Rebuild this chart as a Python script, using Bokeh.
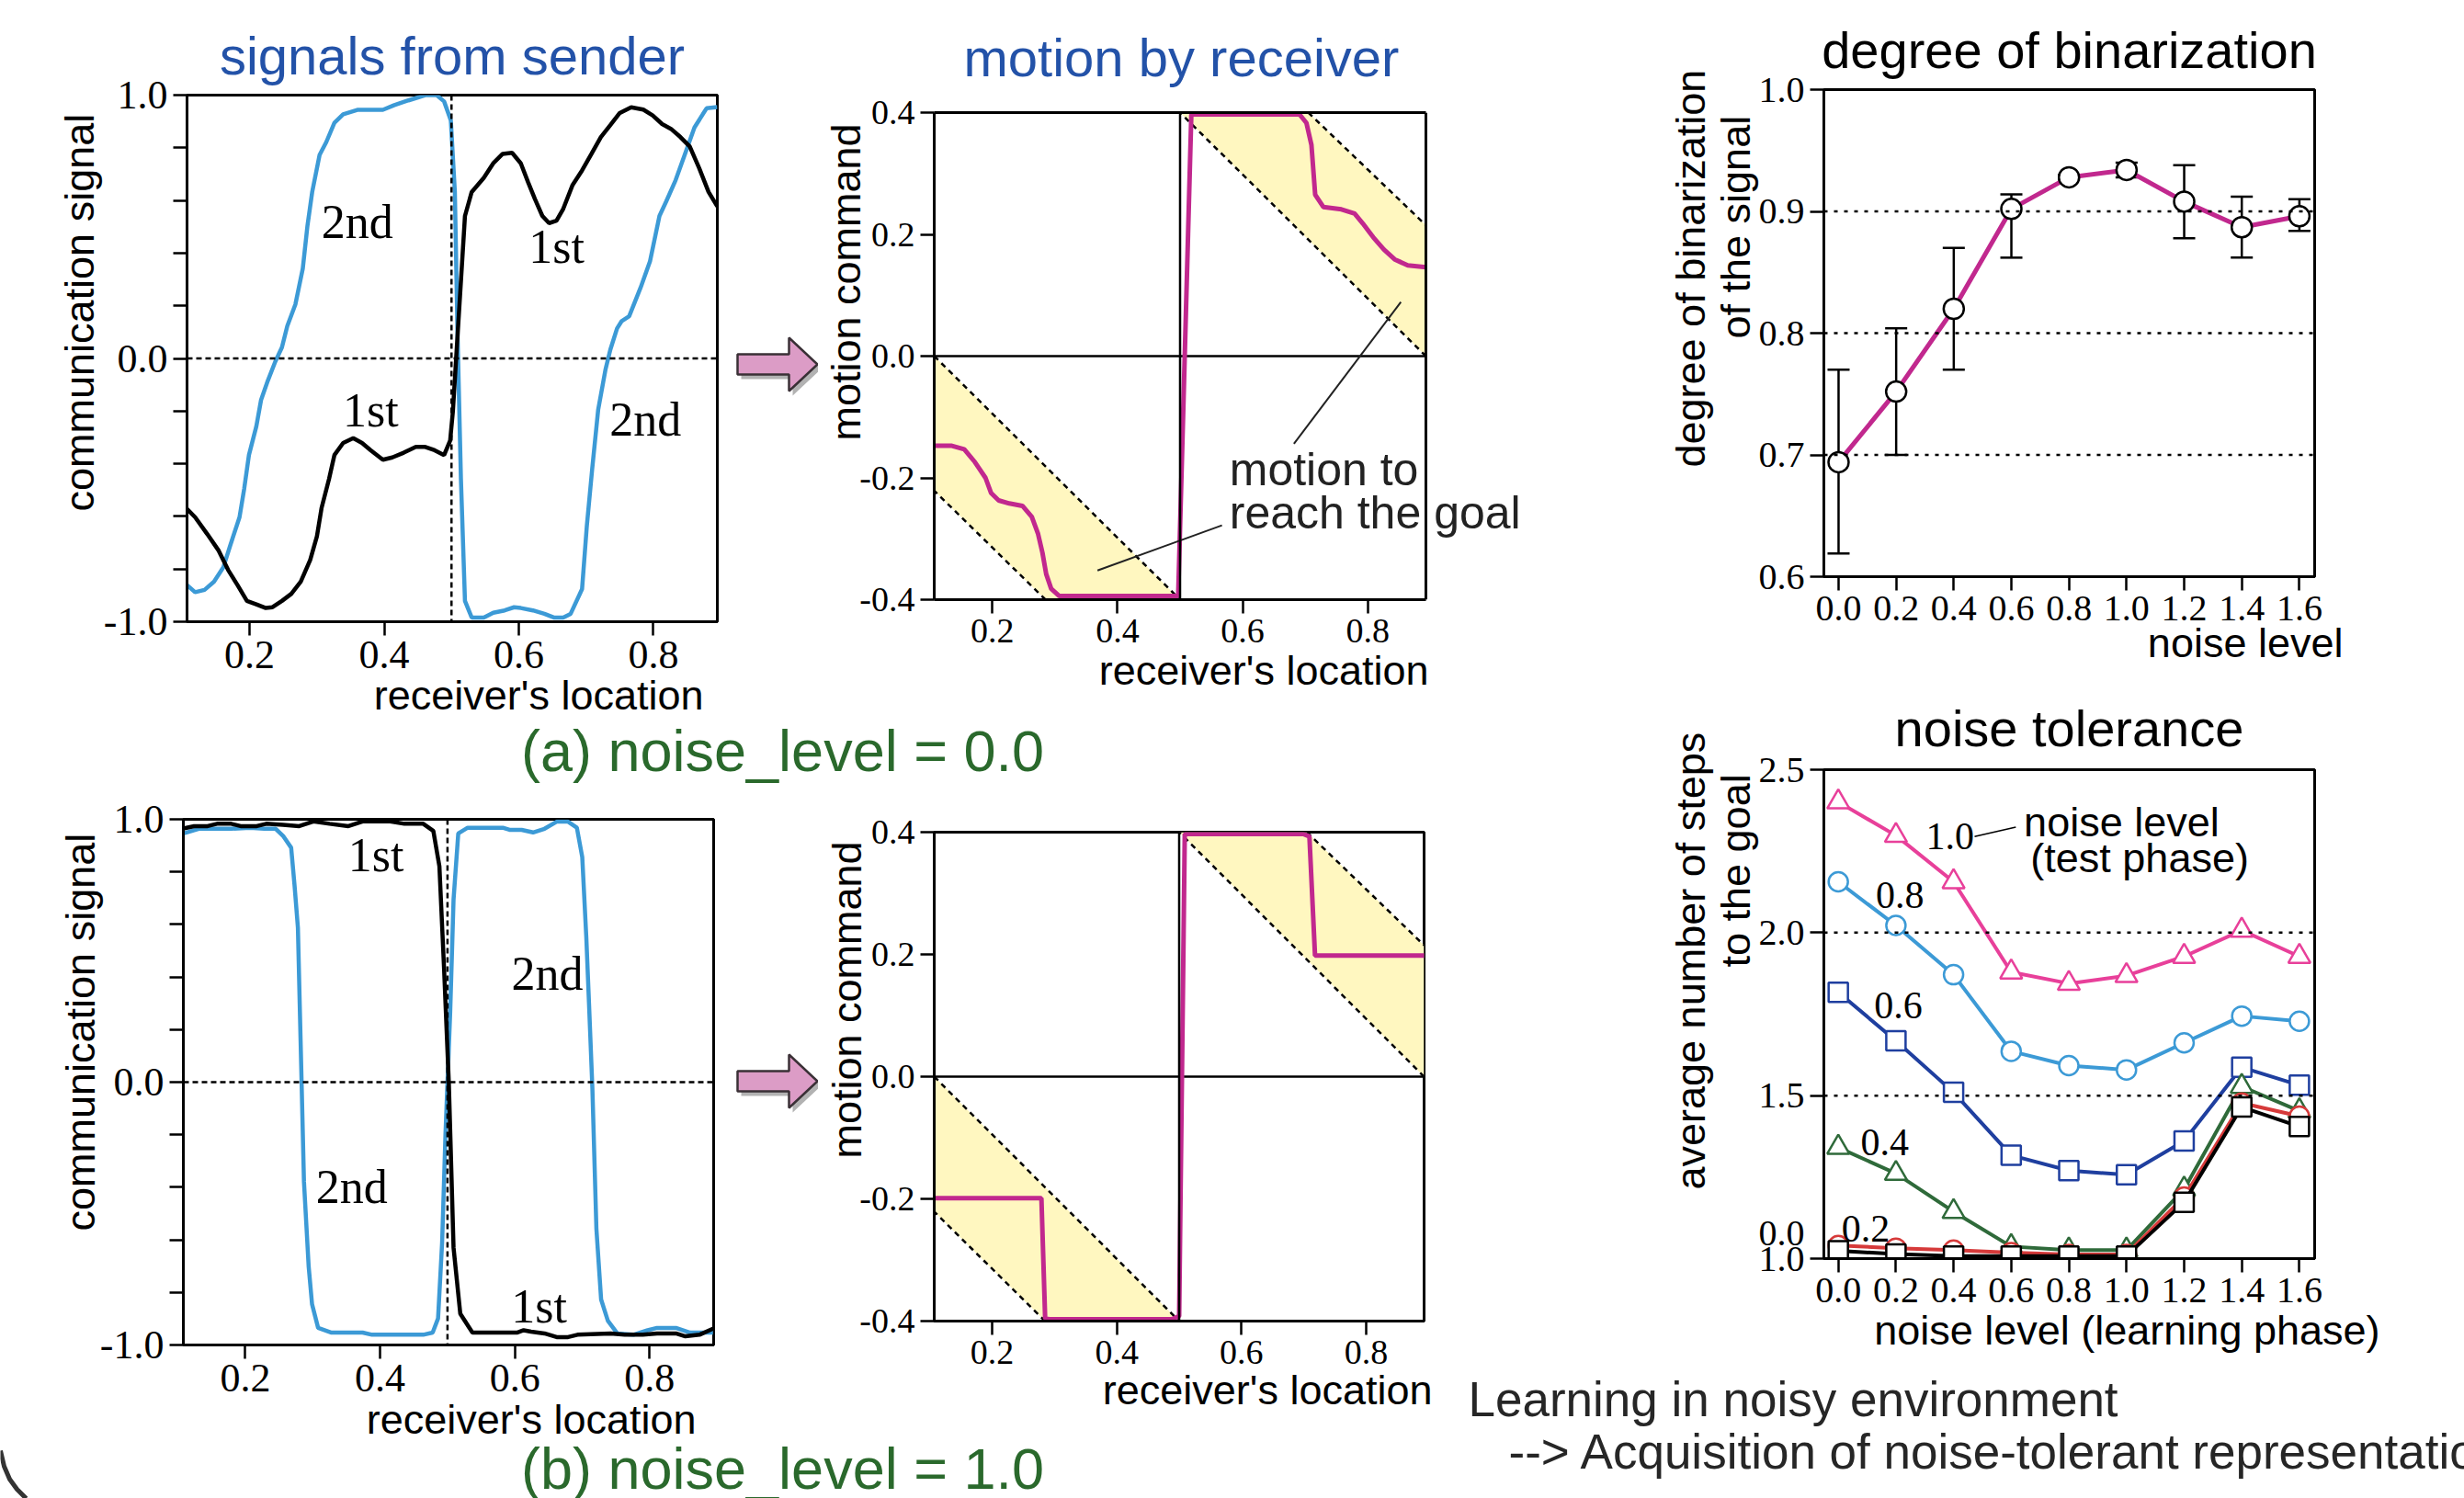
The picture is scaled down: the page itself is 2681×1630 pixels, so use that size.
from bokeh.plotting import figure
from bokeh.layouts import column
from bokeh.models import (GridBox, Range1d, FixedTicker, NumeralTickFormatter, Span, Label, Title,
                          Whisker, TeeHead, ColumnDataSource, LinearAxis)
from bokeh.embed import file_html
from bokeh.resources import INLINE
from bokeh.core.properties import value

SANS = "Liberation Sans"
SERIF = "Liberation Serif"

# ---------------- data ----------------
# (a) noise_level = 0.0 : signals from sender
a_first = [(0.107,-0.572),(0.119,-0.603),(0.137,-0.667),(0.154,-0.730),(0.168,-0.803),(0.182,-0.861),
           (0.196,-0.921),(0.210,-0.934),(0.224,-0.948),(0.234,-0.945),(0.248,-0.921),(0.262,-0.894),
           (0.276,-0.848),(0.290,-0.766),(0.300,-0.676),(0.307,-0.567),(0.318,-0.458),(0.326,-0.367),
           (0.339,-0.321),(0.354,-0.303),(0.367,-0.321),(0.380,-0.349),(0.398,-0.385),(0.412,-0.376),
           (0.429,-0.358),(0.447,-0.336),(0.461,-0.336),(0.475,-0.349),(0.489,-0.367),(0.498,-0.312),
           (0.502,-0.203),(0.509,0.087),(0.520,0.541),(0.530,0.632),(0.548,0.686),(0.562,0.741),
           (0.576,0.777),(0.590,0.781),(0.603,0.741),(0.614,0.668),(0.624,0.605),(0.635,0.541),
           (0.645,0.514),(0.656,0.523),(0.666,0.568),(0.680,0.659),(0.694,0.714),(0.708,0.777),
           (0.722,0.841),(0.736,0.886),(0.750,0.932),(0.767,0.954),(0.785,0.945),(0.799,0.923),
           (0.813,0.890),(0.826,0.872),(0.840,0.841),(0.854,0.805),(0.868,0.723),(0.882,0.632),(0.895,0.577)]
a_second = [(0.107,-0.861),(0.119,-0.888),(0.133,-0.879),(0.147,-0.848),(0.161,-0.793),(0.171,-0.712),
            (0.185,-0.603),(0.192,-0.494),(0.199,-0.367),(0.210,-0.258),(0.217,-0.158),(0.227,-0.085),
            (0.238,-0.013),(0.248,0.042),(0.256,0.123),(0.268,0.205),(0.279,0.341),(0.286,0.505),
            (0.293,0.632),(0.304,0.773),(0.314,0.822),(0.326,0.895),(0.339,0.927),(0.360,0.944),
            (0.398,0.944),(0.415,0.962),(0.436,0.980),(0.461,1.0),(0.478,1.0),(0.489,0.976),
            (0.499,0.904),(0.505,0.632),(0.509,0.087),(0.514,-0.458),(0.520,-0.921),(0.530,-0.984),
            (0.548,-0.984),(0.562,-0.966),(0.579,-0.957),(0.593,-0.945),(0.603,-0.948),(0.621,-0.957),
            (0.638,-0.970),(0.652,-0.984),(0.666,-0.984),(0.677,-0.970),(0.694,-0.876),(0.701,-0.639),
            (0.709,-0.421),(0.718,-0.194),(0.729,-0.040),(0.736,0.033),(0.746,0.114),(0.753,0.142),
            (0.764,0.160),(0.781,0.269),(0.795,0.369),(0.809,0.541),(0.819,0.596),(0.833,0.677),
            (0.847,0.777),(0.861,0.877),(0.879,0.950),(0.895,0.955)]
# (b) noise_level = 1.0 : signals from sender
b_first = [(0.108,0.965),(0.124,0.974),(0.144,0.974),(0.158,0.983),(0.179,0.983),(0.193,0.974),
           (0.217,0.974),(0.231,0.983),(0.256,0.979),(0.280,0.974),(0.301,0.992),(0.325,0.983),
           (0.353,0.974),(0.374,0.992),(0.415,0.992),(0.436,0.983),(0.464,0.983),(0.479,0.956),
           (0.488,0.821),(0.495,0.427),(0.502,-0.004),(0.509,-0.630),(0.519,-0.881),(0.537,-0.953),
           (0.575,-0.953),(0.603,-0.953),(0.613,-0.944),(0.624,-0.949),(0.644,-0.956),(0.662,-0.970),
           (0.679,-0.970),(0.693,-0.961),(0.742,-0.956),(0.763,-0.961),(0.790,-0.961),(0.811,-0.956),
           (0.839,-0.956),(0.853,-0.967),(0.874,-0.961),(0.894,-0.938)]
b_second = [(0.108,0.946),(0.131,0.964),(0.151,0.964),(0.179,0.964),(0.207,0.968),(0.228,0.964),
            (0.245,0.964),(0.256,0.937),(0.268,0.892),(0.273,0.749),(0.278,0.588),(0.282,0.158),
            (0.287,-0.379),(0.294,-0.702),(0.299,-0.845),(0.308,-0.935),(0.328,-0.953),(0.374,-0.953),
            (0.388,-0.961),(0.464,-0.961),(0.478,-0.953),(0.486,-0.899),(0.492,-0.612),(0.497,-0.200),
            (0.504,0.265),(0.509,0.695),(0.516,0.946),(0.530,0.968),(0.582,0.968),(0.592,0.960),
            (0.610,0.960),(0.627,0.950),(0.644,0.964),(0.662,0.991),(0.679,0.991),(0.692,0.968),
            (0.700,0.856),(0.706,0.552),(0.710,0.301),(0.715,-0.021),(0.721,-0.558),(0.728,-0.827),
            (0.738,-0.908),(0.752,-0.956),(0.776,-0.961),(0.797,-0.944),(0.811,-0.935),(0.839,-0.935),
            (0.860,-0.953),(0.881,-0.953),(0.894,-0.953)]
# motion by receiver
a_motion = [(0.107,-0.147),(0.134,-0.147),(0.155,-0.153),(0.172,-0.174),(0.189,-0.200),(0.198,-0.225),
            (0.210,-0.237),(0.227,-0.242),(0.248,-0.246),(0.263,-0.264),(0.273,-0.292),(0.280,-0.323),
            (0.286,-0.358),(0.294,-0.382),(0.307,-0.394),(0.497,-0.394),(0.518,0.397),(0.691,0.397),
            (0.702,0.383),(0.710,0.347),(0.716,0.265),(0.729,0.245),(0.758,0.241),(0.779,0.234),
            (0.792,0.218),(0.809,0.195),(0.826,0.175),(0.843,0.159),(0.864,0.149),(0.893,0.146)]
b_motion = [(0.107,-0.199),(0.279,-0.199),(0.285,-0.396),(0.292,-0.397),(0.488,-0.397),(0.500,-0.392),
            (0.509,0.397),(0.699,0.397),(0.709,0.393),(0.718,0.198),(0.894,0.198)]
# goal bands (motion that reaches the goal): two dashed edges each
band_low = [(0.107,0.0),(0.5,-0.4),(0.285,-0.4),(0.107,-0.221)]
band_high = [(0.705,0.4),(0.893,0.215),(0.893,0.0),(0.5,0.4)]

# degree of binarization
noise = [0.0, 0.2, 0.4, 0.6, 0.8, 1.0, 1.2, 1.4, 1.6]
binar = [0.694, 0.752, 0.820, 0.902, 0.928, 0.934, 0.908, 0.887, 0.896]
binar_hi = [0.770, 0.804, 0.870, 0.914, 0.930, 0.940, 0.938, 0.912, 0.910]
binar_lo = [0.619, 0.700, 0.770, 0.862, 0.926, 0.928, 0.878, 0.862, 0.884]

# noise tolerance: average steps to goal, per test-phase noise level
steps_10 = [2.401, 2.298, 2.156, 1.879, 1.844, 1.868, 1.927, 2.007, 1.927]
steps_08 = [2.156, 2.022, 1.871, 1.636, 1.592, 1.579, 1.662, 1.744, 1.728]
steps_06 = [1.817, 1.668, 1.510, 1.317, 1.270, 1.257, 1.361, 1.587, 1.532]
steps_04 = [1.341, 1.261, 1.144, 1.037, 1.026, 1.026, 1.213, 1.528, 1.453]
steps_02 = [1.040, 1.032, 1.026, 1.018, 1.013, 1.013, 1.189, 1.477, 1.437]
steps_00 = [1.024, 1.014, 1.008, 1.008, 1.008, 1.008, 1.173, 1.465, 1.405]

BLUE_T = "#2352a8"
LBLUE = "#3c9ad6"
MAG = "#c1288e"
YEL = "#fff7c0"
GREEN = "#2a692c"


def xy(pts):
    return [p[0] for p in pts], [p[1] for p in pts]


def make_panel(w, h, xr, yr, mb, xticks, yticks, yminor=(), tick_px=44):
    p = figure(width=w, height=h, x_range=Range1d(*xr), y_range=Range1d(*yr),
               output_backend="svg", toolbar_location=None, title=None,
               min_border_left=mb[0], min_border_right=mb[1],
               min_border_top=mb[2], min_border_bottom=mb[3])
    p.xgrid.visible = False
    p.ygrid.visible = False
    p.outline_line_color = "black"
    p.outline_line_width = 3
    p.outline_line_alpha = 1
    p.xaxis.ticker = FixedTicker(ticks=list(xticks), minor_ticks=[])
    p.yaxis.ticker = FixedTicker(ticks=list(yticks), minor_ticks=list(yminor))
    for ax in (p.xaxis[0], p.yaxis[0]):
        ax.formatter = NumeralTickFormatter(format="0.0")
        ax.axis_line_width = 3
        ax.axis_line_color = "black"
        ax.major_tick_line_width = 2.5
        ax.major_tick_line_color = "black"
        ax.major_tick_out = 15
        ax.major_tick_in = 0
        ax.minor_tick_line_width = 2.5
        ax.minor_tick_line_color = "black"
        ax.minor_tick_out = 15
        ax.minor_tick_in = 0
        ax.major_label_text_font = SERIF
        ax.major_label_text_font_size = f"{tick_px}px"
        ax.major_label_text_color = "black"
        ax.major_label_standoff = 6
    return p


def add_title(p, text, place, size=45, color="black", align="center", offset=0, standoff=0):
    t = Title(text=text, align=align, offset=offset, standoff=standoff, text_font=SANS,
              text_font_size=f"{size}px", text_font_style="normal", text_color=color)
    p.add_layout(t, place)


def add_label(p, x, y, text, font=SERIF, size=52, align="center", color="black"):
    p.add_layout(Label(x=x, y=y, text=text, text_font=font, text_font_size=f"{size}px",
                       text_align=align, text_baseline="middle", text_color=color))


def signal_panel(w, h, xr, mb, first, second, labels):
    yminor = [-0.8, -0.6, -0.4, -0.2, 0.2, 0.4, 0.6, 0.8]
    p = make_panel(w, h, xr, (-1.0, 1.0), mb, [0.2, 0.4, 0.6, 0.8], [-1.0, 0.0, 1.0], yminor, 44)
    p.add_layout(Span(location=0.0, dimension="width", line_dash="6 4", line_width=2.5, line_color="black"))
    p.add_layout(Span(location=0.5, dimension="height", line_dash="6 4", line_width=2.5, line_color="black"))
    sx, sy = xy(second)
    p.line(sx, sy, line_color=LBLUE, line_width=4.5)
    fx, fy = xy(first)
    p.line(fx, fy, line_color="black", line_width=4.5)
    for (lx, ly, t) in labels:
        add_label(p, lx, ly, t, size=52)
    return p


def motion_panel(w, h, xr, mb, motion, xmax):
    p = make_panel(w, h, xr, (-0.4, 0.4), mb, [0.2, 0.4, 0.6, 0.8],
                   [-0.4, -0.2, 0.0, 0.2, 0.4], (), 38)
    for band in (band_low, band_high):
        bx, by = xy(band)
        p.patch(bx, by, fill_color=YEL, line_color=None)
        p.line(bx[:2], by[:2], line_color="black", line_width=2.5, line_dash="6 5")
        p.line(bx[2:], by[2:], line_color="black", line_width=2.5, line_dash="6 5")
    p.line([xr[0], xmax], [0.0, 0.0], line_color="black", line_width=2.5)
    p.add_layout(Span(location=0.5, dimension="height", line_width=2.5, line_color="black"))
    mx, my = xy(motion)
    p.line(mx, my, line_color=MAG, line_width=5)
    return p


# ---------------- (a) signals ----------------
pA1 = signal_panel(787, 772, (0.107, 0.895), (195, 15, 95, 104), a_first, a_second,
                   [(0.360, 0.519, "2nd"), (0.656, 0.423, "1st"), (0.380, -0.198, "1st"), (0.788, -0.231, "2nd")])
add_title(pA1, "signals from sender", "above", size=58, color=BLUE_T, standoff=22)
add_title(pA1, "communication signal", "left", align="left", offset=120, standoff=-4)
add_title(pA1, "receiver's location", "below", align="right", offset=15, standoff=-2)

# ---------------- (a) motion (frame widened on the right for the note) ----------------
A2_XMAX = 0.893
pA2 = motion_panel(775, 760, (0.107, 1.0605), (126, 0, 120, 108), a_motion, A2_XMAX)
pA2.outline_line_color = None
pA2.xaxis.bounds = (0.107, A2_XMAX)
top_edge = LinearAxis(bounds=(0.107, A2_XMAX), ticker=FixedTicker(ticks=[]), axis_line_width=3,
                      major_tick_out=0, major_tick_in=0, minor_tick_out=0, minor_tick_in=0,
                      major_label_standoff=0, major_label_text_font_size="0px")
pA2.add_layout(top_edge, "above")
pA2.add_layout(Span(location=A2_XMAX, dimension="height", line_width=3, line_color="black"))
add_title(pA2, "motion by receiver", "above", size=58, color=BLUE_T, align="left", offset=32, standoff=55)
add_title(pA2, "motion command", "left", align="left", offset=173, standoff=-27)
add_title(pA2, "receiver's location", "below", align="right", offset=111, standoff=0)
pA2.line([0.682, 0.853], [-0.144, 0.089], line_color="#222222", line_width=2)
pA2.line([0.567, 0.368], [-0.278, -0.352], line_color="#222222", line_width=2)
add_label(pA2, 0.579, -0.187, "motion to", font=SANS, size=50, align="left", color="#222222")
add_label(pA2, 0.579, -0.258, "reach the goal", font=SANS, size=50, align="left", color="#222222")

# ---------------- (b) signals ----------------
pB1 = signal_panel(787, 710, (0.108, 0.895), (191, 19, 31, 107), b_first, b_second,
                   [(0.394, 0.865, "1st"), (0.648, 0.412, "2nd"), (0.358, -0.400, "2nd"), (0.636, -0.853, "1st")])
add_title(pB1, "communication signal", "left", align="left", offset=124, standoff=-15)
add_title(pB1, "receiver's location", "below", align="right", offset=19, standoff=0)

# ---------------- (b) motion ----------------
pB2 = motion_panel(690, 710, (0.107, 0.893), (126, 31, 45, 133), b_motion, 0.893)
add_title(pB2, "motion command", "left", align="left", offset=177, standoff=-29)
add_title(pB2, "receiver's location", "below", align="right", offset=-9, standoff=-3)

# ---------------- degree of binarization ----------------
pC = make_panel(1016, 737, (-0.051, 1.653), (0.6, 1.0), (319, 163, 89, 118), noise,
                [0.6, 0.7, 0.8, 0.9, 1.0], (), 40)
for lv in (0.7, 0.8, 0.9):
    pC.add_layout(Span(location=lv, dimension="width", line_dash="4 7", line_width=2.5, line_color="black"))
srcC = ColumnDataSource(dict(x=noise, y=binar, hi=binar_hi, lo=binar_lo))
pC.add_layout(Whisker(source=srcC, base="x", upper="hi", lower="lo", line_width=2.5, line_color="black",
                      upper_head=TeeHead(size=24, line_width=2.5), lower_head=TeeHead(size=24, line_width=2.5)))
pC.line("x", "y", source=srcC, line_color=MAG, line_width=5)
pC.scatter("x", "y", source=srcC, marker="circle", size=22, fill_color="white", line_color="black", line_width=2.5)
add_title(pC, "degree of binarization", "above", size=56, standoff=23)
add_title(pC, "of the signal", "left", align="left", offset=259, standoff=-7)
add_title(pC, "degree of binarization", "left", align="left", offset=119, standoff=0)
add_title(pC, "noise level", "below", align="right", offset=-31, standoff=-12)

# ---------------- noise tolerance ----------------
pD = make_panel(1016, 745, (-0.05, 1.653), (1.0, 2.5), (319, 163, 91, 121), noise,
                [1.0, 1.077, 1.5, 2.0, 2.5], [1.0, 1.5, 2.0, 2.5], 40)
pD.yaxis.major_tick_line_color = None          # tick marks drawn by the minor ticks
pD.yaxis.major_label_overrides = {1.077: "0.0"}  # test-phase level 0.0 label beside the axis
for lv in (1.5, 2.0):
    pD.add_layout(Span(location=lv, dimension="width", line_dash="4 7", line_width=2.5, line_color="black"))
series = [(steps_10, "#e8409a", "triangle", 24),
          (steps_08, LBLUE, "circle", 21),
          (steps_06, "#1f3f9f", "square", 21),
          (steps_04, "#2f6a3a", "triangle", 24),
          (steps_02, "#d63a3a", "circle", 21),
          (steps_00, "black", "square", 21)]
for vals, col, mk, sz in series:
    pD.line(noise, vals, line_color=col, line_width=4)
    pD.scatter(noise, vals, marker=mk, size=sz, fill_color="white", line_color=col, line_width=2.5)
for (lx, ly, t) in [(0.388, 2.295, "1.0"), (0.214, 2.116, "0.8"), (0.208, 1.777, "0.6"),
                    (0.161, 1.357, "0.4"), (0.095, 1.093, "0.2")]:
    add_label(pD, lx, ly, t, size=42)
pD.line([0.473, 0.616], [2.295, 2.324], line_color="black", line_width=1.5)
add_label(pD, 0.644, 2.340, "noise level", font=SANS, size=45, align="left")
add_label(pD, 0.667, 2.228, "(test phase)", font=SANS, size=45, align="left")
add_title(pD, "noise tolerance", "above", size=56, standoff=27)
add_title(pD, "to the goal", "left", align="left", offset=317, standoff=-7)
add_title(pD, "average number of steps", "left", align="left", offset=75, standoff=0)
add_title(pD, "noise level (learning phase)", "below", align="right", offset=-71, standoff=0)


# ---------------- decoration figures (page coordinates) ----------------
def canvas(w, h, x0, x1, y0, y1):
    p = figure(width=w, height=h, x_range=Range1d(x0, x1), y_range=Range1d(y1, y0),
               output_backend="svg", toolbar_location=None, title=None,
               x_axis_type=None, y_axis_type=None, min_border=0)
    p.xgrid.visible = False
    p.ygrid.visible = False
    p.outline_line_color = None
    return p


def arrow(p, cy):
    xs = [802, 858, 858, 889, 858, 858, 802]
    ys = [cy - 11, cy - 11, cy - 29, cy, cy + 29, cy + 11, cy + 11]
    p.patch([x + 4 for x in xs], [y + 5 for y in ys], fill_color="#555555", fill_alpha=0.45, line_color=None)
    p.patch(xs, ys, fill_color="#dc9cc6", line_color="#3a3036", line_width=2.5)


def words(p, x, y, t, size, color, align="center"):
    p.text([x], [y], text=[t], text_font=value(SANS), text_font_size=value(f"{size}px"),
           text_align=align, text_baseline="middle", text_color=color)


arrA = canvas(95, 772, 795, 890, 8, 780)
arrow(arrA, 396)
arrB = canvas(95, 710, 795, 890, 860, 1570)
arrow(arrB, 1176)

txtA = canvas(1572, 80, 8, 1580, 780, 860)
words(txtA, 851, 816, "(a) noise_level = 0.0", 63, GREEN)
txtB = canvas(1580, 60, 0, 1580, 1570, 1630)
words(txtB, 851, 1597, "(b) noise_level = 1.0", 63, GREEN)
# corner of the slide frame visible at the lower left
txtB.line([0, 4, 10, 18, 28], [1578, 1595, 1609, 1620, 1630], line_color="#333333", line_width=5)

learn = canvas(1101, 140, 1580, 2681, 1490, 1630)
words(learn, 1597, 1522, "Learning in noisy environment", 53, "#262626", "left")
words(learn, 1641, 1579, "-->  Acquisition of noise-tolerant representation", 53, "#262626", "left")


def box(p):
    return column(p)


grid = GridBox(children=[
    (box(pA1), 1, 1, 3, 1),
    (box(arrA), 1, 2, 3, 1),
    (box(pA2), 0, 3, 3, 2),
    (box(pC), 1, 5, 1, 1),
    (box(pD), 2, 5, 4, 1),
    (box(txtA), 4, 1, 1, 3),
    (box(pB1), 5, 1, 2, 1),
    (box(arrB), 5, 2, 2, 1),
    (box(pB2), 5, 3, 2, 1),
    (box(learn), 6, 4, 2, 2),
    (box(txtB), 7, 0, 1, 4),
], rows=["8px", "737px", "15px", "20px", "80px", "630px", "80px", "60px"],
   cols=["8px", "787px", "95px", "690px", "85px", "1016px"], spacing=0)

open("out.html", "w").write(file_html(grid, INLINE))
